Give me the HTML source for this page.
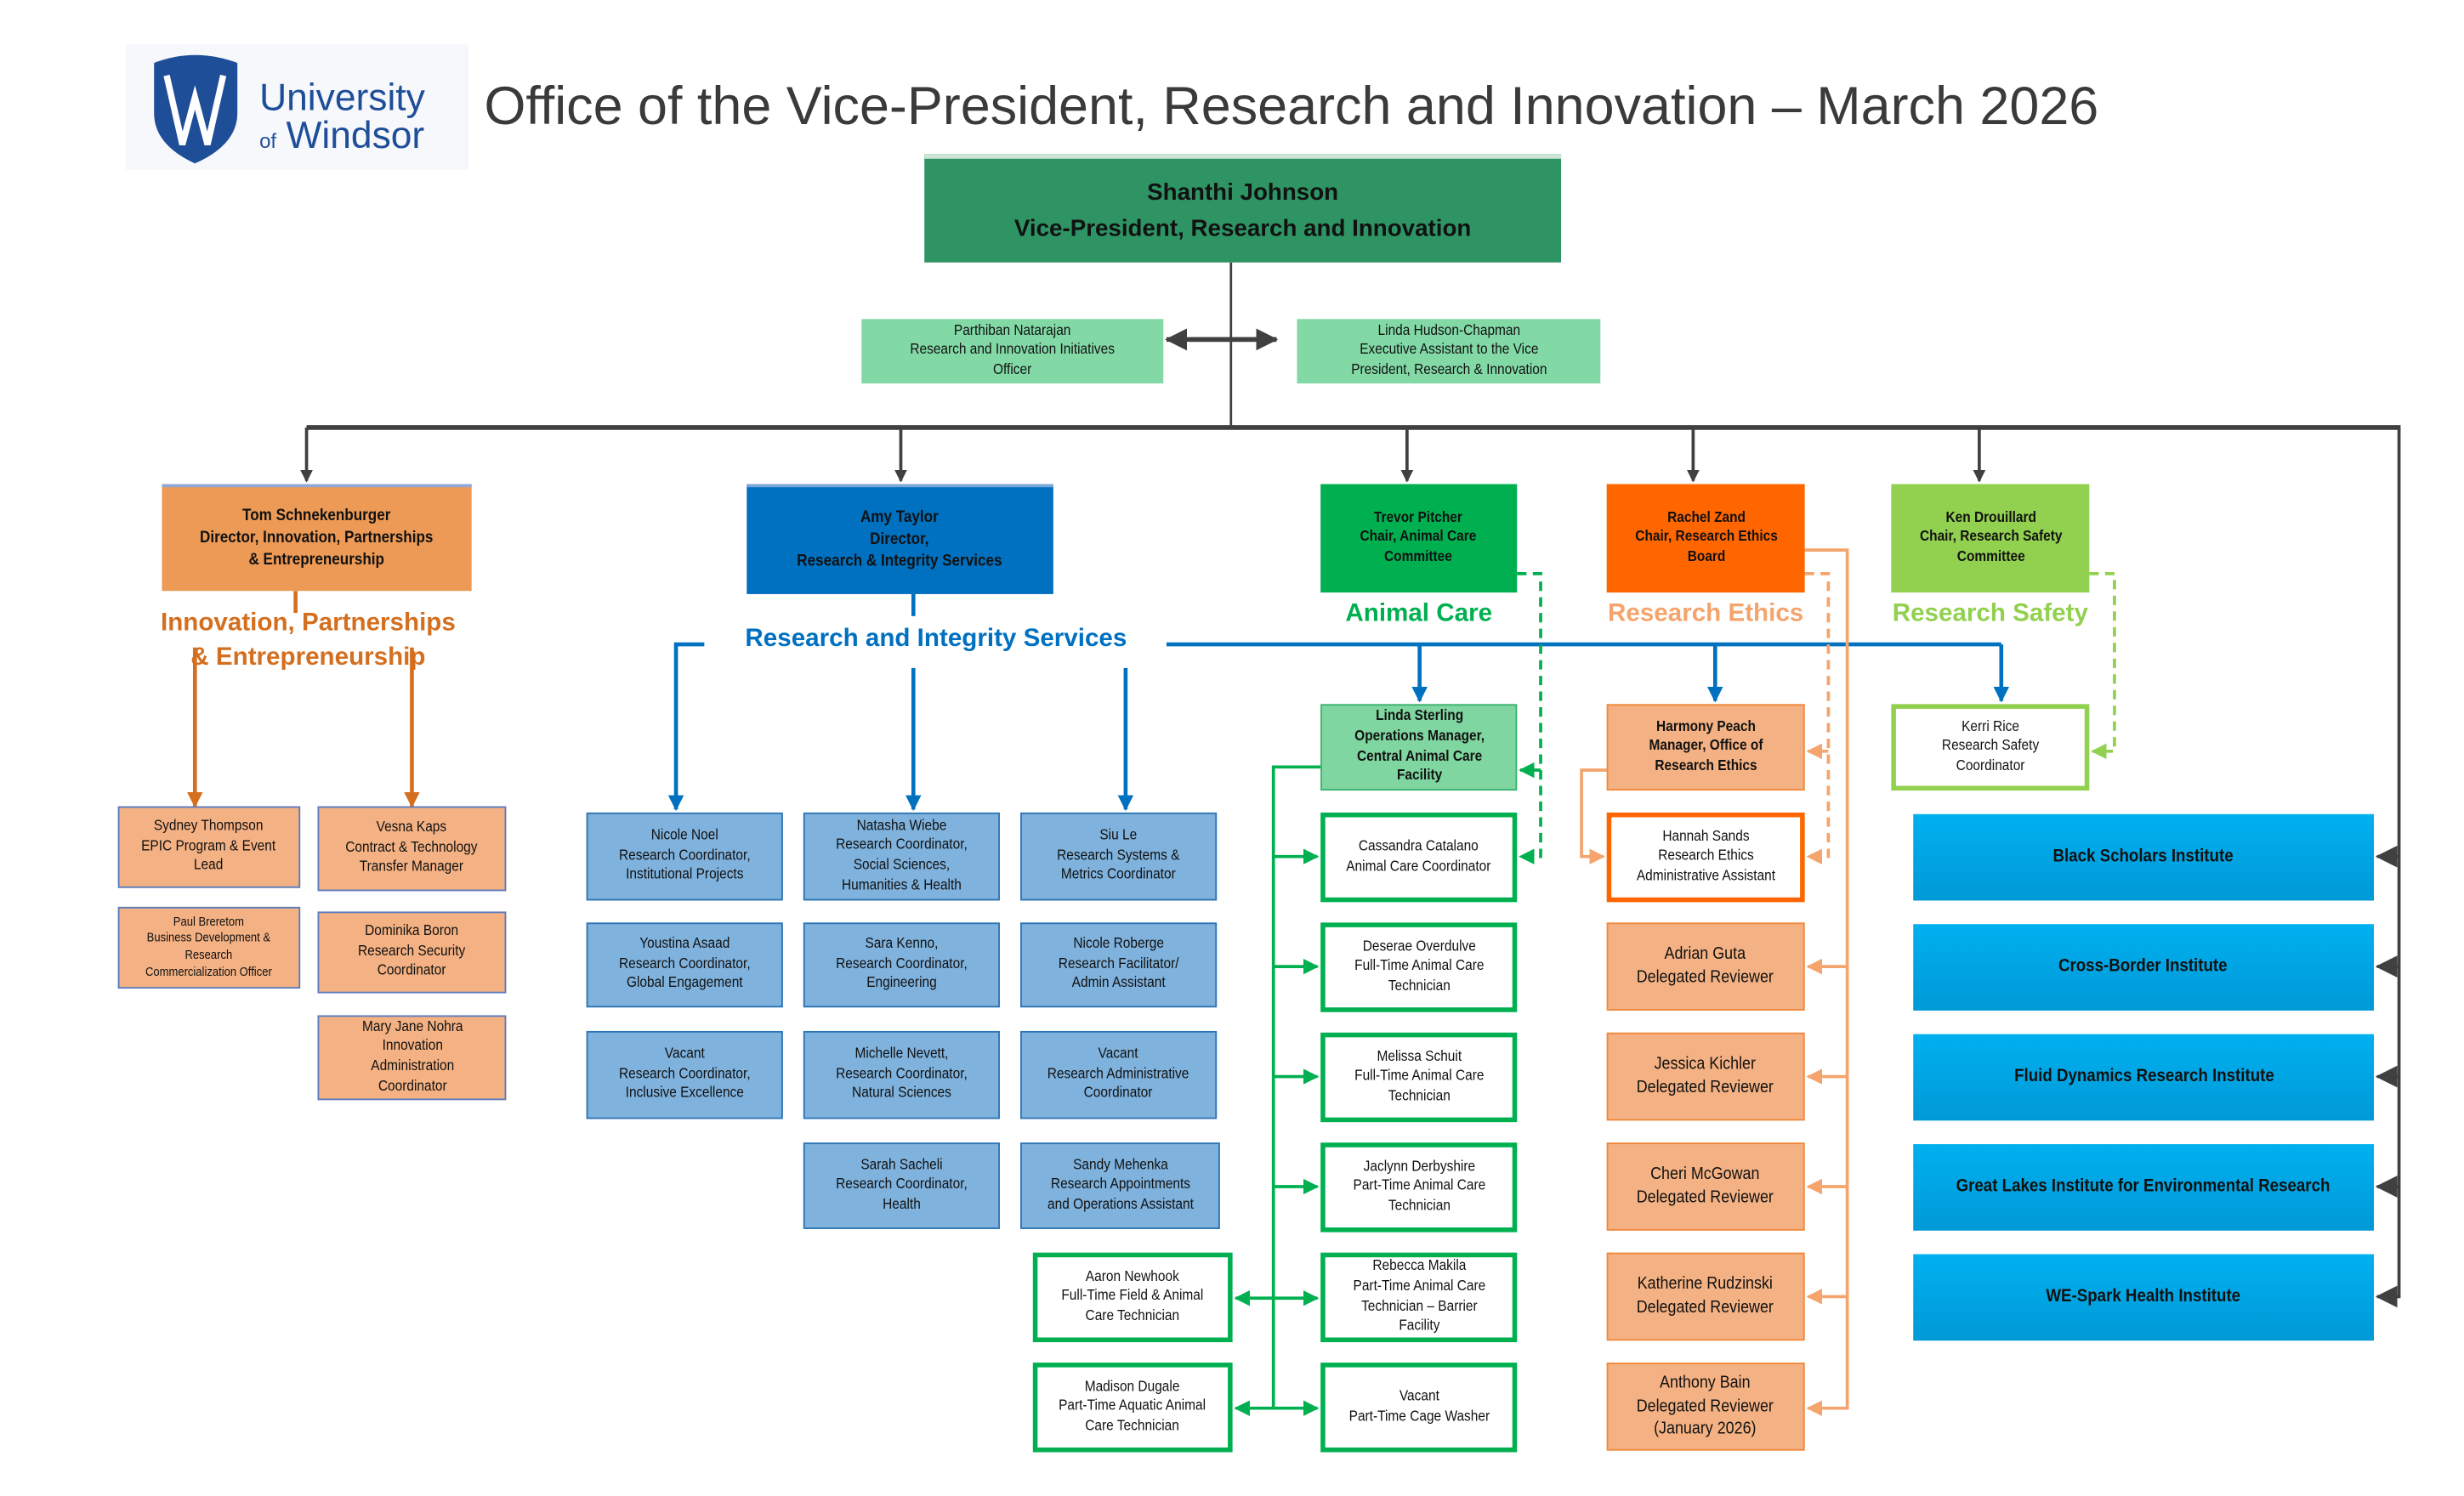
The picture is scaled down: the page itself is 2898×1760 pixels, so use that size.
<!DOCTYPE html>
<html><head><meta charset="utf-8">
<style>
html,body{margin:0;padding:0;background:#fff;}
body{width:2898px;height:1760px;overflow:hidden;position:relative;}
#w{position:absolute;left:0;top:0;width:1568px;height:952px;transform:scale(1.849);transform-origin:0 0;font-family:"Liberation Sans",sans-serif;}
.b{position:absolute;display:flex;align-items:center;justify-content:center;text-align:center;font-size:9.5px;line-height:1.33;box-sizing:border-box;color:#111;}
.b span{display:inline-block;transform:scaleX(0.88);}
.ipe{background:#f4b183;border:1px solid #5b7cc0;}
.ris{background:#7fb2dd;border:1px solid #2e75b6;}
.ac{background:#fff;border:3px solid #00b050;}
.re{background:#f4b183;border:1.5px solid #f08a3c;font-size:11px;}
.ins{background:linear-gradient(#00b0f0,#0099d6);font-weight:bold;font-size:11.5px;}
.lab{position:absolute;font-weight:bold;font-size:16px;white-space:nowrap;}
svg{position:absolute;left:0;top:0;}
</style></head><body><div id="w">
<svg width="1568" height="952">
<defs>
<marker id="k" markerWidth="8" markerHeight="8" refX="7" refY="4" orient="auto" markerUnits="userSpaceOnUse"><path d="M0,0 L8,4 L0,8 z" fill="#404040"/></marker>
<marker id="kb" markerWidth="14" markerHeight="14" refX="13" refY="7" orient="auto" markerUnits="userSpaceOnUse"><path d="M0,0 L14,7 L0,14 z" fill="#404040"/></marker>
<marker id="o" markerWidth="10" markerHeight="10" refX="9" refY="5" orient="auto" markerUnits="userSpaceOnUse"><path d="M0,0 L10,5 L0,10 z" fill="#d46f1f"/></marker>
<marker id="bl" markerWidth="10" markerHeight="14" refX="9" refY="7" orient="auto" markerUnits="userSpaceOnUse"><path d="M0,2 L10,7 L0,12 z" fill="#0070c0"/></marker>
<marker id="g" markerWidth="10" markerHeight="12" refX="9" refY="6" orient="auto" markerUnits="userSpaceOnUse"><path d="M0,1 L10,6 L0,11 z" fill="#00b050"/></marker>
<marker id="lo" markerWidth="10" markerHeight="12" refX="9" refY="6" orient="auto" markerUnits="userSpaceOnUse"><path d="M0,1 L10,6 L0,11 z" fill="#f4a46c"/></marker>
<marker id="lg" markerWidth="10" markerHeight="12" refX="9" refY="6" orient="auto" markerUnits="userSpaceOnUse"><path d="M0,1 L10,6 L0,11 z" fill="#92d050"/></marker>
</defs>
<g stroke="#404040" fill="none">
<line x1="783" y1="167" x2="783" y2="272" stroke-width="1.5"/>
<line x1="757" y1="216" x2="812" y2="216" stroke-width="3" marker-end="url(#kb)"/>
<line x1="812" y1="216" x2="742" y2="216" stroke-width="3" marker-end="url(#kb)"/>
<line x1="195" y1="272" x2="1527" y2="272" stroke-width="3"/>
<line x1="1526" y1="272" x2="1526" y2="826" stroke-width="2"/>
<line x1="195" y1="272" x2="195" y2="306" stroke-width="2" marker-end="url(#k)"/>
<line x1="573" y1="272" x2="573" y2="306" stroke-width="2" marker-end="url(#k)"/>
<line x1="895" y1="272" x2="895" y2="306" stroke-width="2" marker-end="url(#k)"/>
<line x1="1077" y1="272" x2="1077" y2="306" stroke-width="2" marker-end="url(#k)"/>
<line x1="1259" y1="272" x2="1259" y2="306" stroke-width="2" marker-end="url(#k)"/>
<line x1="1526" y1="545" x2="1512" y2="545" stroke-width="2" marker-end="url(#kb)"/>
<line x1="1526" y1="615" x2="1512" y2="615" stroke-width="2" marker-end="url(#kb)"/>
<line x1="1526" y1="685" x2="1512" y2="685" stroke-width="2" marker-end="url(#kb)"/>
<line x1="1526" y1="755" x2="1512" y2="755" stroke-width="2" marker-end="url(#kb)"/>
<line x1="1526" y1="825" x2="1512" y2="825" stroke-width="2" marker-end="url(#kb)"/>
</g>
<g stroke="#d46f1f" stroke-width="2.5" fill="none">
<line x1="188" y1="376" x2="188" y2="390"/>
<line x1="124" y1="412" x2="124" y2="513" marker-end="url(#o)"/>
<line x1="262" y1="412" x2="262" y2="513" marker-end="url(#o)"/>
</g>
<g stroke="#0070c0" stroke-width="2.5" fill="none">
<line x1="581" y1="378" x2="581" y2="392"/>
<polyline points="448,410 430,410 430,515" marker-end="url(#bl)"/>
<line x1="742" y1="410" x2="1273" y2="410"/>
<line x1="581" y1="425" x2="581" y2="515" marker-end="url(#bl)"/>
<line x1="716" y1="425" x2="716" y2="515" marker-end="url(#bl)"/>
<line x1="903" y1="410" x2="903" y2="446" marker-end="url(#bl)"/>
<line x1="1091" y1="410" x2="1091" y2="446" marker-end="url(#bl)"/>
<line x1="1273" y1="410" x2="1273" y2="446" marker-end="url(#bl)"/>
</g>
<g stroke="#00b050" stroke-width="2" fill="none">
<polyline points="840,488 810,488 810,897"/>
<line x1="810" y1="545" x2="838" y2="545" marker-end="url(#g)"/>
<line x1="810" y1="615" x2="838" y2="615" marker-end="url(#g)"/>
<line x1="810" y1="685" x2="838" y2="685" marker-end="url(#g)"/>
<line x1="810" y1="755" x2="838" y2="755" marker-end="url(#g)"/>
<line x1="810" y1="826" x2="838" y2="826" marker-end="url(#g)"/>
<line x1="810" y1="896" x2="838" y2="896" marker-end="url(#g)"/>
<line x1="810" y1="826" x2="786" y2="826" marker-end="url(#g)"/>
<line x1="810" y1="896" x2="786" y2="896" marker-end="url(#g)"/>
<g stroke-dasharray="6,4">
<polyline points="965,365 980,365 980,545 967,545" marker-end="url(#g)"/>
<line x1="980" y1="490" x2="967" y2="490" marker-end="url(#g)"/>
</g>
</g>
<g stroke="#f4a46c" stroke-width="2" fill="none">
<polyline points="1148,350 1175,350 1175,896 1150,896" marker-end="url(#lo)"/>
<line x1="1175" y1="615" x2="1150" y2="615" marker-end="url(#lo)"/>
<line x1="1175" y1="685" x2="1150" y2="685" marker-end="url(#lo)"/>
<line x1="1175" y1="755" x2="1150" y2="755" marker-end="url(#lo)"/>
<line x1="1175" y1="825" x2="1150" y2="825" marker-end="url(#lo)"/>
<polyline points="1022,490 1006,490 1006,545 1020,545" marker-end="url(#lo)"/>
<g stroke-dasharray="6,4">
<polyline points="1148,365 1163,365 1163,545 1150,545" marker-end="url(#lo)"/>
<line x1="1163" y1="478" x2="1150" y2="478" marker-end="url(#lo)"/>
</g>
</g>
<g stroke="#92d050" stroke-width="2" fill="none" stroke-dasharray="6,4">
<polyline points="1329,365 1345,365 1345,478 1331,478" marker-end="url(#lg)"/>
</g>
<rect x="80" y="28" width="218" height="80" fill="#f6f8fb"/>
<path d="M98,40 Q124,30 151,40 L151,72 Q151,92 124,104 Q98,92 98,72 Z" fill="#1f4e99"/>
<path d="M106,48 L116,92 L124,62 L132,92 L142,48" stroke="#fff" stroke-width="4" fill="none"/>
<text x="165" y="70" font-family="Liberation Sans,sans-serif" font-size="24" fill="#1f4e99">University</text>
<text x="165" y="94" font-family="Liberation Sans,sans-serif" font-size="13" fill="#1f4e99">of</text>
<text x="182" y="94" font-family="Liberation Sans,sans-serif" font-size="24" fill="#1f4e99">Windsor</text>
</svg>

<div class="lab" style="left:308px;top:49px;font-weight:normal;font-size:34px;color:#3a3a3a;">Office of the Vice-President, Research and Innovation – March 2026</div>

<div class="b" style="left:588px;top:98px;width:405px;height:69px;background:#2e9464;border-top:3px solid #cfe6d6;font-weight:bold;font-size:15px;line-height:1.55;">Shanthi Johnson<br>Vice-President, Research and Innovation</div>
<div class="b" style="left:548px;top:203px;width:192px;height:41px;background:#82d9a6;"><span>Parthiban Natarajan<br>Research and Innovation Initiatives<br>Officer</span></div>
<div class="b" style="left:825px;top:203px;width:193px;height:41px;background:#82d9a6;"><span>Linda Hudson-Chapman<br>Executive Assistant to the Vice<br>President, Research &amp; Innovation</span></div>

<div class="b" style="left:103px;top:308px;width:197px;height:68px;background:#ec9a55;border-top:2px solid #8fa8d8;font-weight:bold;font-size:10.5px;"><span>Tom Schnekenburger<br>Director, Innovation, Partnerships<br>&amp; Entrepreneurship</span></div>
<div class="b" style="left:475px;top:308px;width:195px;height:70px;background:#0070c0;border-top:2px solid #7aa6d8;font-weight:bold;font-size:10.5px;"><span>Amy Taylor<br>Director,<br>Research &amp; Integrity Services</span></div>
<div class="b" style="left:840px;top:308px;width:125px;height:69px;background:#00b050;font-weight:bold;"><span>Trevor Pitcher<br>Chair, Animal Care<br>Committee</span></div>
<div class="b" style="left:1022px;top:308px;width:126px;height:69px;background:#ff6600;font-weight:bold;"><span>Rachel Zand<br>Chair, Research Ethics<br>Board</span></div>
<div class="b" style="left:1203px;top:308px;width:126px;height:69px;background:#92d050;font-weight:bold;"><span>Ken Drouillard<br>Chair, Research Safety<br>Committee</span></div>

<div class="lab" style="left:96px;top:386px;width:200px;text-align:center;color:#d46f1f;line-height:22px;">Innovation, Partnerships<br>&amp; Entrepreneurship</div>
<div class="lab" style="left:474px;top:398px;color:#0070c0;">Research and Integrity Services</div>
<div class="lab" style="left:840px;top:382px;width:125px;text-align:center;color:#00b050;">Animal Care</div>
<div class="lab" style="left:1010px;top:382px;width:150px;text-align:center;color:#f4a46c;">Research Ethics</div>
<div class="lab" style="left:1191px;top:382px;width:150px;text-align:center;color:#92d050;">Research Safety</div>

<div class="b ipe" style="left:75px;top:513px;width:116px;height:52px;"><span>Sydney Thompson<br>EPIC Program &amp; Event<br>Lead</span></div>
<div class="b ipe" style="left:75px;top:577px;width:116px;height:52px;font-size:8px;"><span>Paul Breretom<br>Business Development &amp;<br>Research<br>Commercialization Officer</span></div>
<div class="b ipe" style="left:202px;top:513px;width:120px;height:54px;"><span>Vesna Kaps<br>Contract &amp; Technology<br>Transfer Manager</span></div>
<div class="b ipe" style="left:202px;top:580px;width:120px;height:52px;"><span>Dominika Boron<br>Research Security<br>Coordinator</span></div>
<div class="b ipe" style="left:202px;top:646px;width:120px;height:54px;"><span>Mary Jane Nohra<br>Innovation<br>Administration<br>Coordinator</span></div>

<div class="b ris" style="left:373px;top:517px;width:125px;height:56px;"><span>Nicole Noel<br>Research Coordinator,<br>Institutional Projects</span></div>
<div class="b ris" style="left:511px;top:517px;width:125px;height:56px;"><span>Natasha Wiebe<br>Research Coordinator,<br>Social Sciences,<br>Humanities &amp; Health</span></div>
<div class="b ris" style="left:649px;top:517px;width:125px;height:56px;"><span>Siu Le<br>Research Systems &amp;<br>Metrics Coordinator</span></div>
<div class="b ris" style="left:373px;top:587px;width:125px;height:54px;"><span>Youstina Asaad<br>Research Coordinator,<br>Global Engagement</span></div>
<div class="b ris" style="left:511px;top:587px;width:125px;height:54px;"><span>Sara Kenno,<br>Research Coordinator,<br>Engineering</span></div>
<div class="b ris" style="left:649px;top:587px;width:125px;height:54px;"><span>Nicole Roberge<br>Research Facilitator/<br>Admin Assistant</span></div>
<div class="b ris" style="left:373px;top:656px;width:125px;height:56px;"><span>Vacant<br>Research Coordinator,<br>Inclusive Excellence</span></div>
<div class="b ris" style="left:511px;top:656px;width:125px;height:56px;"><span>Michelle Nevett,<br>Research Coordinator,<br>Natural Sciences</span></div>
<div class="b ris" style="left:649px;top:656px;width:125px;height:56px;"><span>Vacant<br>Research Administrative<br>Coordinator</span></div>
<div class="b ris" style="left:511px;top:727px;width:125px;height:55px;"><span>Sarah Sacheli<br>Research Coordinator,<br>Health</span></div>
<div class="b ris" style="left:649px;top:727px;width:127px;height:55px;"><span>Sandy Mehenka<br>Research Appointments<br>and Operations Assistant</span></div>

<div class="b" style="left:840px;top:448px;width:125px;height:55px;background:#7fd6a0;border:1.5px solid #3cb371;font-weight:bold;"><span>Linda Sterling<br>Operations Manager,<br>Central Animal Care<br>Facility</span></div>
<div class="b ac" style="left:840px;top:517px;width:125px;height:57px;"><span>Cassandra Catalano<br>Animal Care Coordinator</span></div>
<div class="b ac" style="left:840px;top:587px;width:125px;height:57px;"><span>Deserae Overdulve<br>Full-Time Animal Care<br>Technician</span></div>
<div class="b ac" style="left:840px;top:657px;width:125px;height:57px;"><span>Melissa Schuit<br>Full-Time Animal Care<br>Technician</span></div>
<div class="b ac" style="left:840px;top:727px;width:125px;height:57px;"><span>Jaclynn Derbyshire<br>Part-Time Animal Care<br>Technician</span></div>
<div class="b ac" style="left:840px;top:797px;width:125px;height:57px;"><span>Rebecca Makila<br>Part-Time Animal Care<br>Technician – Barrier<br>Facility</span></div>
<div class="b ac" style="left:840px;top:867px;width:125px;height:57px;"><span>Vacant<br>Part-Time Cage Washer</span></div>
<div class="b ac" style="left:657px;top:797px;width:127px;height:57px;"><span>Aaron Newhook<br>Full-Time Field &amp; Animal<br>Care Technician</span></div>
<div class="b ac" style="left:657px;top:867px;width:127px;height:57px;"><span>Madison Dugale<br>Part-Time Aquatic Animal<br>Care Technician</span></div>

<div class="b" style="left:1022px;top:448px;width:126px;height:55px;background:#f4b183;border:1.5px solid #f08a3c;font-weight:bold;"><span>Harmony Peach<br>Manager, Office of<br>Research Ethics</span></div>
<div class="b" style="left:1022px;top:517px;width:126px;height:57px;background:#fff;border:3px solid #ff6600;"><span>Hannah Sands<br>Research Ethics<br>Administrative Assistant</span></div>
<div class="b re" style="left:1022px;top:587px;width:126px;height:56px;"><span>Adrian Guta<br>Delegated Reviewer</span></div>
<div class="b re" style="left:1022px;top:657px;width:126px;height:56px;"><span>Jessica Kichler<br>Delegated Reviewer</span></div>
<div class="b re" style="left:1022px;top:727px;width:126px;height:56px;"><span>Cheri McGowan<br>Delegated Reviewer</span></div>
<div class="b re" style="left:1022px;top:797px;width:126px;height:56px;"><span>Katherine Rudzinski<br>Delegated Reviewer</span></div>
<div class="b re" style="left:1022px;top:867px;width:126px;height:56px;"><span>Anthony Bain<br>Delegated Reviewer<br>(January 2026)</span></div>

<div class="b" style="left:1203px;top:448px;width:126px;height:55px;background:#fff;border:3px solid #92d050;"><span>Kerri Rice<br>Research Safety<br>Coordinator</span></div>

<div class="b ins" style="left:1217px;top:518px;width:293px;height:55px;"><span>Black Scholars Institute</span></div>
<div class="b ins" style="left:1217px;top:588px;width:293px;height:55px;"><span>Cross-Border Institute</span></div>
<div class="b ins" style="left:1217px;top:658px;width:293px;height:55px;"><span>Fluid Dynamics Research Institute</span></div>
<div class="b ins" style="left:1217px;top:728px;width:293px;height:55px;"><span>Great Lakes Institute for Environmental Research</span></div>
<div class="b ins" style="left:1217px;top:798px;width:293px;height:55px;"><span>WE-Spark Health Institute</span></div>
</div></body></html>
